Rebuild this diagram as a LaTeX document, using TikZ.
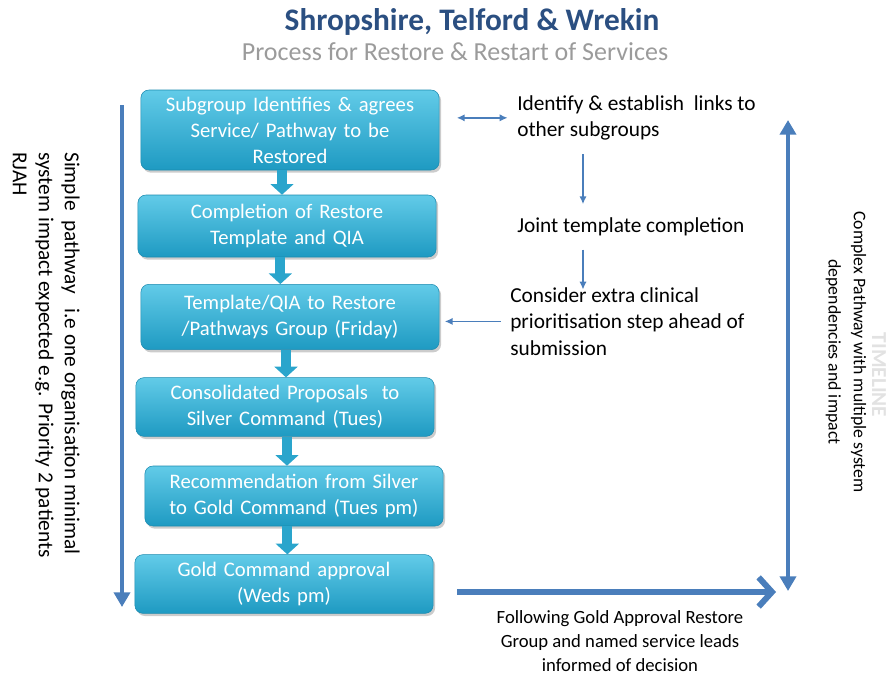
\documentclass[tikz,border=0pt]{standalone}
\usepackage{fontspec}
\setmainfont{Carlito}
\usetikzlibrary{positioning, shadows, arrows.meta}

\definecolor{boxtop}{HTML}{62CBE8}
\definecolor{boxbot}{HTML}{1E9AC2}
\definecolor{boxline}{HTML}{1B8AAF}
\definecolor{flowc}{HTML}{2AA5CC}
\definecolor{linec}{HTML}{4A7EBB}
\definecolor{titlec}{HTML}{2B4F81}
\definecolor{subc}{HTML}{9B9B9B}
\definecolor{timec}{HTML}{E2E2E2}

\tikzset{
  stage/.style={draw=boxline, rounded corners=6pt, top color=boxtop, bottom color=boxbot,
    text=white, align=center, minimum width=221pt, text width=217pt,
    font=\fontsize{15.5}{19.5}\selectfont,
    drop shadow={shadow xshift=1.5pt, shadow yshift=-2pt, opacity=0.4}},
  flow/.style={draw=flowc, line width=7.5pt, -{Triangle[width=17pt, length=8pt]}},
  link/.style={draw=linec, line width=1.2pt, -{Latex[length=6pt, width=5.5pt]}},
  note/.style={inner sep=0pt, align=left, font=\fontsize{16}{20}\selectfont},
}

\begin{document}
\begin{tikzpicture}[x=0.75pt, y=-0.75pt]
        \useasboundingbox (0, 0) rectangle (889, 678);

        % title
        \node (title) at (472, 22) {\fontsize{23.5}{26}\selectfont\bfseries\color{titlec} Shropshire, Telford \& Wrekin};
        \node (subtitle) at (455, 52) {\fontsize{19.5}{22}\selectfont\color{subc} Process for Restore \& Restart of Services};

        % main stages
        \node[stage, minimum height=60pt] (b1) at (290, 130) {Subgroup Identifies \& agrees\\ Service/ Pathway to be\\ Restored};
        \node[stage, minimum height=46.5pt] (b2) at (287, 226) {Completion of Restore\\ Template and QIA};
        \node[stage, minimum height=49pt] (b3) at (290, 317) {Template/QIA to Restore\\ /Pathways Group (Friday)};
        \node[stage, minimum height=44pt] (b4) at (285, 407) {Consolidated Proposals \ to\\ Silver Command (Tues)};
        \node[stage, minimum height=45pt] (b5) at (294, 496) {Recommendation from Silver\\ to Gold Command (Tues pm)};
        \node[stage, minimum height=44pt] (b6) at (284, 584) {Gold Command approval\\ (Weds pm)};

        % arrows between stages
        \draw[flow] ([xshift=-6pt]b1.south) -- ([xshift=-6pt]b1.south |- b2.north);
        \draw[flow] ([xshift=-5pt]b2.south) -- ([xshift=-5pt]b2.south |- b3.north);
        \draw[flow] ([xshift=-3pt]b3.south) -- ([xshift=-3pt]b3.south |- b4.north);
        \draw[flow] ([xshift=1.5pt]b4.south) -- ([xshift=1.5pt]b4.south |- b5.north);
        \draw[flow] ([xshift=-5pt]b5.south) -- ([xshift=-5pt]b5.south |- b6.north);

        % side steps
        \node[note, anchor=north west] (links) at (517, 95) {Identify \& establish \ links to\\ other subgroups};
        \node[note, anchor=west] (joint) at (517, 227) {Joint template completion};
        \node[note, anchor=north west] (extra) at (510, 287) {Consider extra clinical\\ prioritisation step ahead of\\ submission};

        \coordinate (side) at (583, 0);
        \draw[link, {Latex[length=6pt, width=5.5pt]}-{Latex[length=6pt, width=5.5pt]}] ([xshift=13pt]b1.east |- links) -- ([xshift=-7pt]links.west);
        \draw[link] ([yshift=-10pt]links.south -| side) -- ([yshift=10pt]joint.north -| side);
        \draw[link] ([yshift=-10pt]joint.south -| side) -- ([yshift=-2pt]extra.north -| side);
        \draw[link] ([xshift=-7pt]extra.west) -- ([xshift=4pt]b3.east |- extra);

        % outcome
        \coordinate (gate) at (776, 592);
        \draw[draw=linec, line width=4.5pt, -{Straight Barb[length=10pt, width=22pt]}] ([xshift=18pt]b6.east |- gate) -- (gate);
        \node[align=center, font=\fontsize{14}{18}\selectfont] (informed) at (620, 641) {Following Gold Approval Restore\\ Group and named service leads\\ informed of decision};

        % simple pathway timeline
        \coordinate (s1) at (122, 105);
        \coordinate (s2) at (122, 607);
        \draw[draw=linec, line width=3pt, -{Triangle[width=12pt, length=11pt]}] (s1) -- (s2);
        \node[inner sep=0pt, rotate=-90, anchor=north west, align=left, font=\fontsize{16}{19.5}\selectfont] (simple) at (80, 152)
            {Simple \ pathway \ \ i.e one organisation minimal\\ system impact expected e.g. Priority 2 patients\\ RJAH};

        % complex pathway timeline
        \coordinate (c1) at (788, 120);
        \coordinate (c2) at (788, 591);
        \draw[draw=linec, line width=3pt, {Triangle[width=12pt, length=11pt]}-{Triangle[width=12pt, length=11pt]}] (c1) -- (c2);
        \node[rotate=-90, align=center, font=\fontsize{13.3}{19}\selectfont] (complex) at (846, 352)
            {Complex Pathway with multiple system\\ dependencies and impact};
        \node[rotate=-90, inner sep=0pt, text=timec, font=\fontsize{16}{18}\selectfont\bfseries] (timeline) at (879, 375) {TIMELINE};
    \end{tikzpicture}
\end{document}
